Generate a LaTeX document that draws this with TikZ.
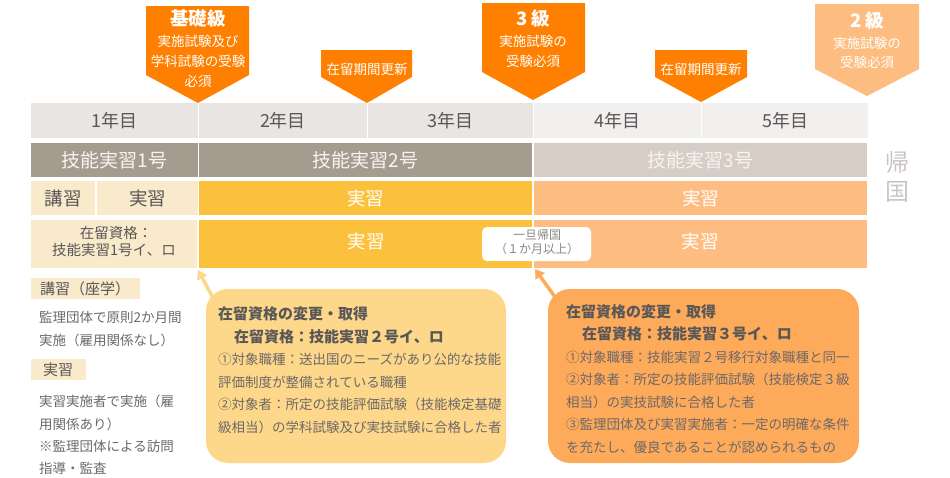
\documentclass[tikz,border=0pt]{standalone}
\usepackage{fontspec}
\setmainfont{Noto Sans CJK JP}
\usetikzlibrary{arrows.meta}
\definecolor{orangeA}{HTML}{FF7F00}
\definecolor{orangeL}{HTML}{FDBD80}
\definecolor{yearD}{HTML}{E8E5E2}
\definecolor{yearL}{HTML}{F2F0EE}
\definecolor{rankD}{HTML}{A69B8F}
\definecolor{rankL}{HTML}{D5CDC6}
\definecolor{cream}{HTML}{F8EACB}
\definecolor{yel}{HTML}{FCC13C}
\definecolor{calY}{HTML}{FDD88A}
\definecolor{calO}{HTML}{FDAA5A}
\definecolor{txt}{HTML}{595757}
\definecolor{txtL}{HTML}{6E6868}
\definecolor{kikoku}{HTML}{CBC3CB}
\definecolor{wtxt}{HTML}{F7F4F1}
\begin{document}
\begin{tikzpicture}[x=1pt,y=-1pt,
  cell/.style={inner sep=0pt, outer sep=0pt, anchor=north west},
  fs/.style={font=\fontsize{#1}{#1}\selectfont},
  fsb/.style={font=\fontsize{#1}{#1}\selectfont\bfseries},
  ln/.style={anchor=base west, inner sep=0pt},
  lc/.style={anchor=base, inner sep=0pt},
  callout/.style={cell, rounded corners=22pt},
  arr/.style={line width=3.5pt, -{Triangle[length=9pt,width=11pt]}},
]
\useasboundingbox (0,0) rectangle (950,477);

% ---- top callouts ----
\fill[orangeA] (146,6) -- (249,6) -- (249,75) -- (198,103) -- (146,75) -- cycle;
\node[lc, fsb=18.5, text=white] (k1) at (198,25) {基礎級};
\node[lc, fs=13.5, text=white] (k2) at (198,46) {実施試験及び};
\node[lc, fs=13.5, text=white] (k3) at (198,66) {学科試験の受験};
\node[lc, fs=13.5, text=white] (k4) at (198,86) {必須};

\fill[orangeA] (321,50) -- (412,50) -- (412,77) -- (367,103) -- (321,77) -- cycle;
\node[lc, fs=13.5, text=white] (u1) at (367,74) {在留期間更新};

\fill[orangeA] (482,3) -- (585,3) -- (585,72) -- (533,100) -- (482,72) -- cycle;
\node[lc, fsb=18.5, text=white] (s1) at (533,25) {3 級};
\node[lc, fs=13.5, text=white] (s2) at (533,46) {実施試験の};
\node[lc, fs=13.5, text=white] (s3) at (533,66) {受験必須};

\fill[orangeA] (655,50) -- (747,50) -- (747,77) -- (701,102) -- (655,77) -- cycle;
\node[lc, fs=13.5, text=white] (u2) at (701,74) {在留期間更新};

\fill[orangeL] (815,4) -- (919,4) -- (919,69) -- (867,96) -- (815,69) -- cycle;
\node[lc, fsb=18.5, text=white] (t1) at (867,27) {2 級};
\node[lc, fs=13.5, text=white] (t2) at (867,48) {実施試験の};
\node[lc, fs=13.5, text=white] (t3) at (867,67) {受験必須};

% ---- year row ----
\node[cell, fill=yearD, minimum width=167, minimum height=35, fs=18, text=txt] (y1) at (31,103) {1年目};
\node[cell, fill=yearD, minimum width=168, minimum height=35, fs=18, text=txt] (y2) at (199,103) {2年目};
\node[cell, fill=yearD, minimum width=165, minimum height=35, fs=18, text=txt] (y3) at (368,103) {3年目};
\node[cell, fill=yearL, minimum width=167, minimum height=35, fs=18, text=txt] (y4) at (534,103) {4年目};
\node[cell, fill=yearL, minimum width=166, minimum height=35, fs=18, text=txt] (y5) at (702,103) {5年目};

% ---- rank row ----
\node[cell, fill=rankD, minimum width=167, minimum height=34, fs=19, text=wtxt] (g1) at (31,143) {技能実習1号};
\node[cell, fill=rankD, minimum width=333, minimum height=34, fs=19, text=wtxt] (g2) at (199,143) {技能実習2号};
\node[cell, fill=rankL, minimum width=333, minimum height=34, fs=19, text=wtxt] (g3) at (534,143) {技能実習3号};

% ---- row 3 ----
\node[cell, fill=cream, minimum width=64, minimum height=34, fs=18.5, text=txt] (r3a) at (31,181) {講習};
\node[cell, fill=cream, minimum width=101, minimum height=34, fs=18.5, text=txt] (r3b) at (97,181) {実習};
\node[cell, fill=yel, minimum width=333, minimum height=34, fs=18.5, text=white] (r3c) at (199,181) {実習};
\node[cell, fill=orangeL, minimum width=333, minimum height=34, fs=18.5, text=white] (r3d) at (534,181) {実習};

% ---- row 4 ----
\node[cell, fill=cream, minimum width=166, minimum height=48] (r4a) at (31,220) {};
\node[cell, fill=yel, minimum width=333, minimum height=48] (r4b) at (199,220) {};
\node[cell, fill=orangeL, minimum width=333, minimum height=48] (r4c) at (534,220) {};
\node[lc, fs=14.5, text=txt] (r4a1) at (116,238.5) {在留資格：};
\node[lc, fs=14.5, text=txt] (r4a2) at (114,255.5) {技能実習1号イ、ロ};
\node[lc, fs=18.5, text=white] (r4b1) at (366,248) {実習};
\node[lc, fs=18.5, text=white] (r4c1) at (700,248) {実習};

% ---- temporary return ----
\fill[white, rounded corners=5pt] (482,227) rectangle (591,261);
\node[lc, fs=12, text=txtL!80] (tr1) at (537,239.5) {一旦帰国};
\node[lc, fs=12, text=txtL!80] (tr2) at (537,253.5) {（１か月以上）};

% ---- kikoku ----
\node[lc, fs=24, text=kikoku] (kk1) at (897,171) {帰};
\node[lc, fs=24, text=kikoku] (kk2) at (897,200) {国};

% ---- left explanations ----
\fill[cream] (31,278) rectangle (140,299);
\node[ln, fs=15, text=txt] (l1) at (40,294) {講習（座学）};
\node[ln, fs=13.5, text=txtL] (l2) at (39,322) {監理団体で原則2か月間};
\node[ln, fs=13.5, text=txtL] (l3) at (39,345) {実施（雇用関係なし）};
\fill[cream] (31,359) rectangle (86,380);
\node[ln, fs=15, text=txt] (l4) at (43,375) {実習};
\node[ln, fs=13.5, text=txtL] (l5) at (39,406) {実習実施者で実施（雇};
\node[ln, fs=13.5, text=txtL] (l6) at (39,429) {用関係あり）};
\node[ln, fs=13.5, text=txtL] (l7) at (39,451) {※監理団体による訪問};
\node[ln, fs=13.5, text=txtL] (l8) at (39,473) {指導・監査};

% ---- arrows ----
\coordinate (yA) at (220,311);
\coordinate (yT) at (198,270);
\coordinate (oA) at (565,311);
\coordinate (oT) at (535,269);
\draw[arr, calY] (yA) -- (yT);
\draw[arr, calO] (oA) -- (oT);

% ---- yellow callout ----
\node[callout, fill=calY, minimum width=300, minimum height=174] (cy) at (206,289) {};
\node[ln, fsb=15, text=txt] (cy1) at (218,319.5) {在留資格の変更・取得};
\node[ln, fsb=15, text=txt] (cy2) at (234,342.5) {在留資格：技能実習２号イ、ロ};
\node[ln, fs=13.5, text=txtL] (cy3) at (218,364) {①対象職種：送出国のニーズがあり公的な技能};
\node[ln, fs=13.5, text=txtL] (cy4) at (218,387) {評価制度が整備されている職種};
\node[ln, fs=13.5, text=txtL] (cy5) at (218,409) {②対象者：所定の技能評価試験（技能検定基礎};
\node[ln, fs=13.5, text=txtL] (cy6) at (218,432) {級相当）の学科試験及び実技試験に合格した者};

% ---- orange callout ----
\node[callout, fill=calO, minimum width=311, minimum height=174] (co) at (548,289) {};
\node[ln, fsb=15, text=txt] (co1) at (566,317.5) {在留資格の変更・取得};
\node[ln, fsb=15, text=txt] (co2) at (582,339.5) {在留資格：技能実習３号イ、ロ};
\node[ln, fs=13.5, text=txtL] (co3) at (566,362) {①対象職種：技能実習２号移行対象職種と同一};
\node[ln, fs=13.5, text=txtL] (co4) at (566,384) {②対象者：所定の技能評価試験（技能検定３級};
\node[ln, fs=13.5, text=txtL] (co5) at (566,407) {相当）の実技試験に合格した者};
\node[ln, fs=13.5, text=txtL] (co6) at (566,429) {③監理団体及び実習実施者：一定の明確な条件};
\node[ln, fs=13.5, text=txtL] (co7) at (566,452) {を充たし、優良であることが認められるもの};
\end{tikzpicture}
\end{document}
